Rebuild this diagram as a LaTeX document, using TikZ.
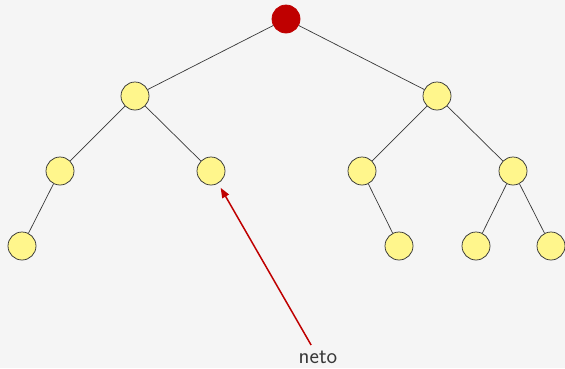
\documentclass[tikz,border=0pt]{standalone}
\usepackage{tikz}
\usetikzlibrary{positioning,arrows.meta}

\definecolor{bgray}{HTML}{F5F5F5}
\definecolor{leafyellow}{HTML}{FFF68C}
\definecolor{rootred}{HTML}{BF0000}
\definecolor{edgegray}{HTML}{383838}

\tikzset{
  heapnode/.style={circle,draw=edgegray,line width=0.75pt,fill=leafyellow,minimum size=28pt,inner sep=0pt},
  rootnode/.style={heapnode,draw=rootred,fill=rootred},
  treeedge/.style={draw=edgegray,line width=0.7pt},
  pointer/.style={-{Triangle[length=10pt,width=7.5pt]},draw=rootred,line width=1.5pt,shorten <=4pt,shorten >=5pt}
}

\begin{document}
\begin{tikzpicture}[x=1pt,y=-1pt,node distance=75pt and 151pt,on grid]
		\fill[bgray] (0,0) rectangle (565,368);
		\useasboundingbox (0,0) rectangle (565,368);
		\node[rootnode] (r) at (286,19) {};
		\node[heapnode] (a) [below left=77pt and 151pt of r] {};
		\node[heapnode] (b) [below right=77pt and 151pt of r] {};
		\node[heapnode] (a1) [below left=75pt and 75pt of a] {};
		\node[heapnode] (a2) [below right=75pt and 76pt of a] {};
		\node[heapnode] (b1) [below left=75pt and 75pt of b] {};
		\node[heapnode] (b2) [below right=75pt and 76pt of b] {};
		\node[heapnode] (a11) [below left=75pt and 38pt of a1] {};
		\node[heapnode] (b12) [below right=75pt and 37pt of b1] {};
		\node[heapnode] (b21) [below left=75pt and 37pt of b2] {};
		\node[heapnode] (b22) [below right=75pt and 38pt of b2] {};
		\path[treeedge]
			(r) -- (a) (r) -- (b)
			(a) -- (a1) (a) -- (a2)
			(b) -- (b1) (b) -- (b2)
			(a1) -- (a11) (b1) -- (b12)
			(b2) -- (b21) (b2) -- (b22);
		\node[text=edgegray,font=\sffamily\fontsize{22.5}{26}\selectfont,inner sep=2pt] (neto) at (318,357) {neto};
		\draw[pointer] (neto) -- (a2);
	\end{tikzpicture}
\end{document}
